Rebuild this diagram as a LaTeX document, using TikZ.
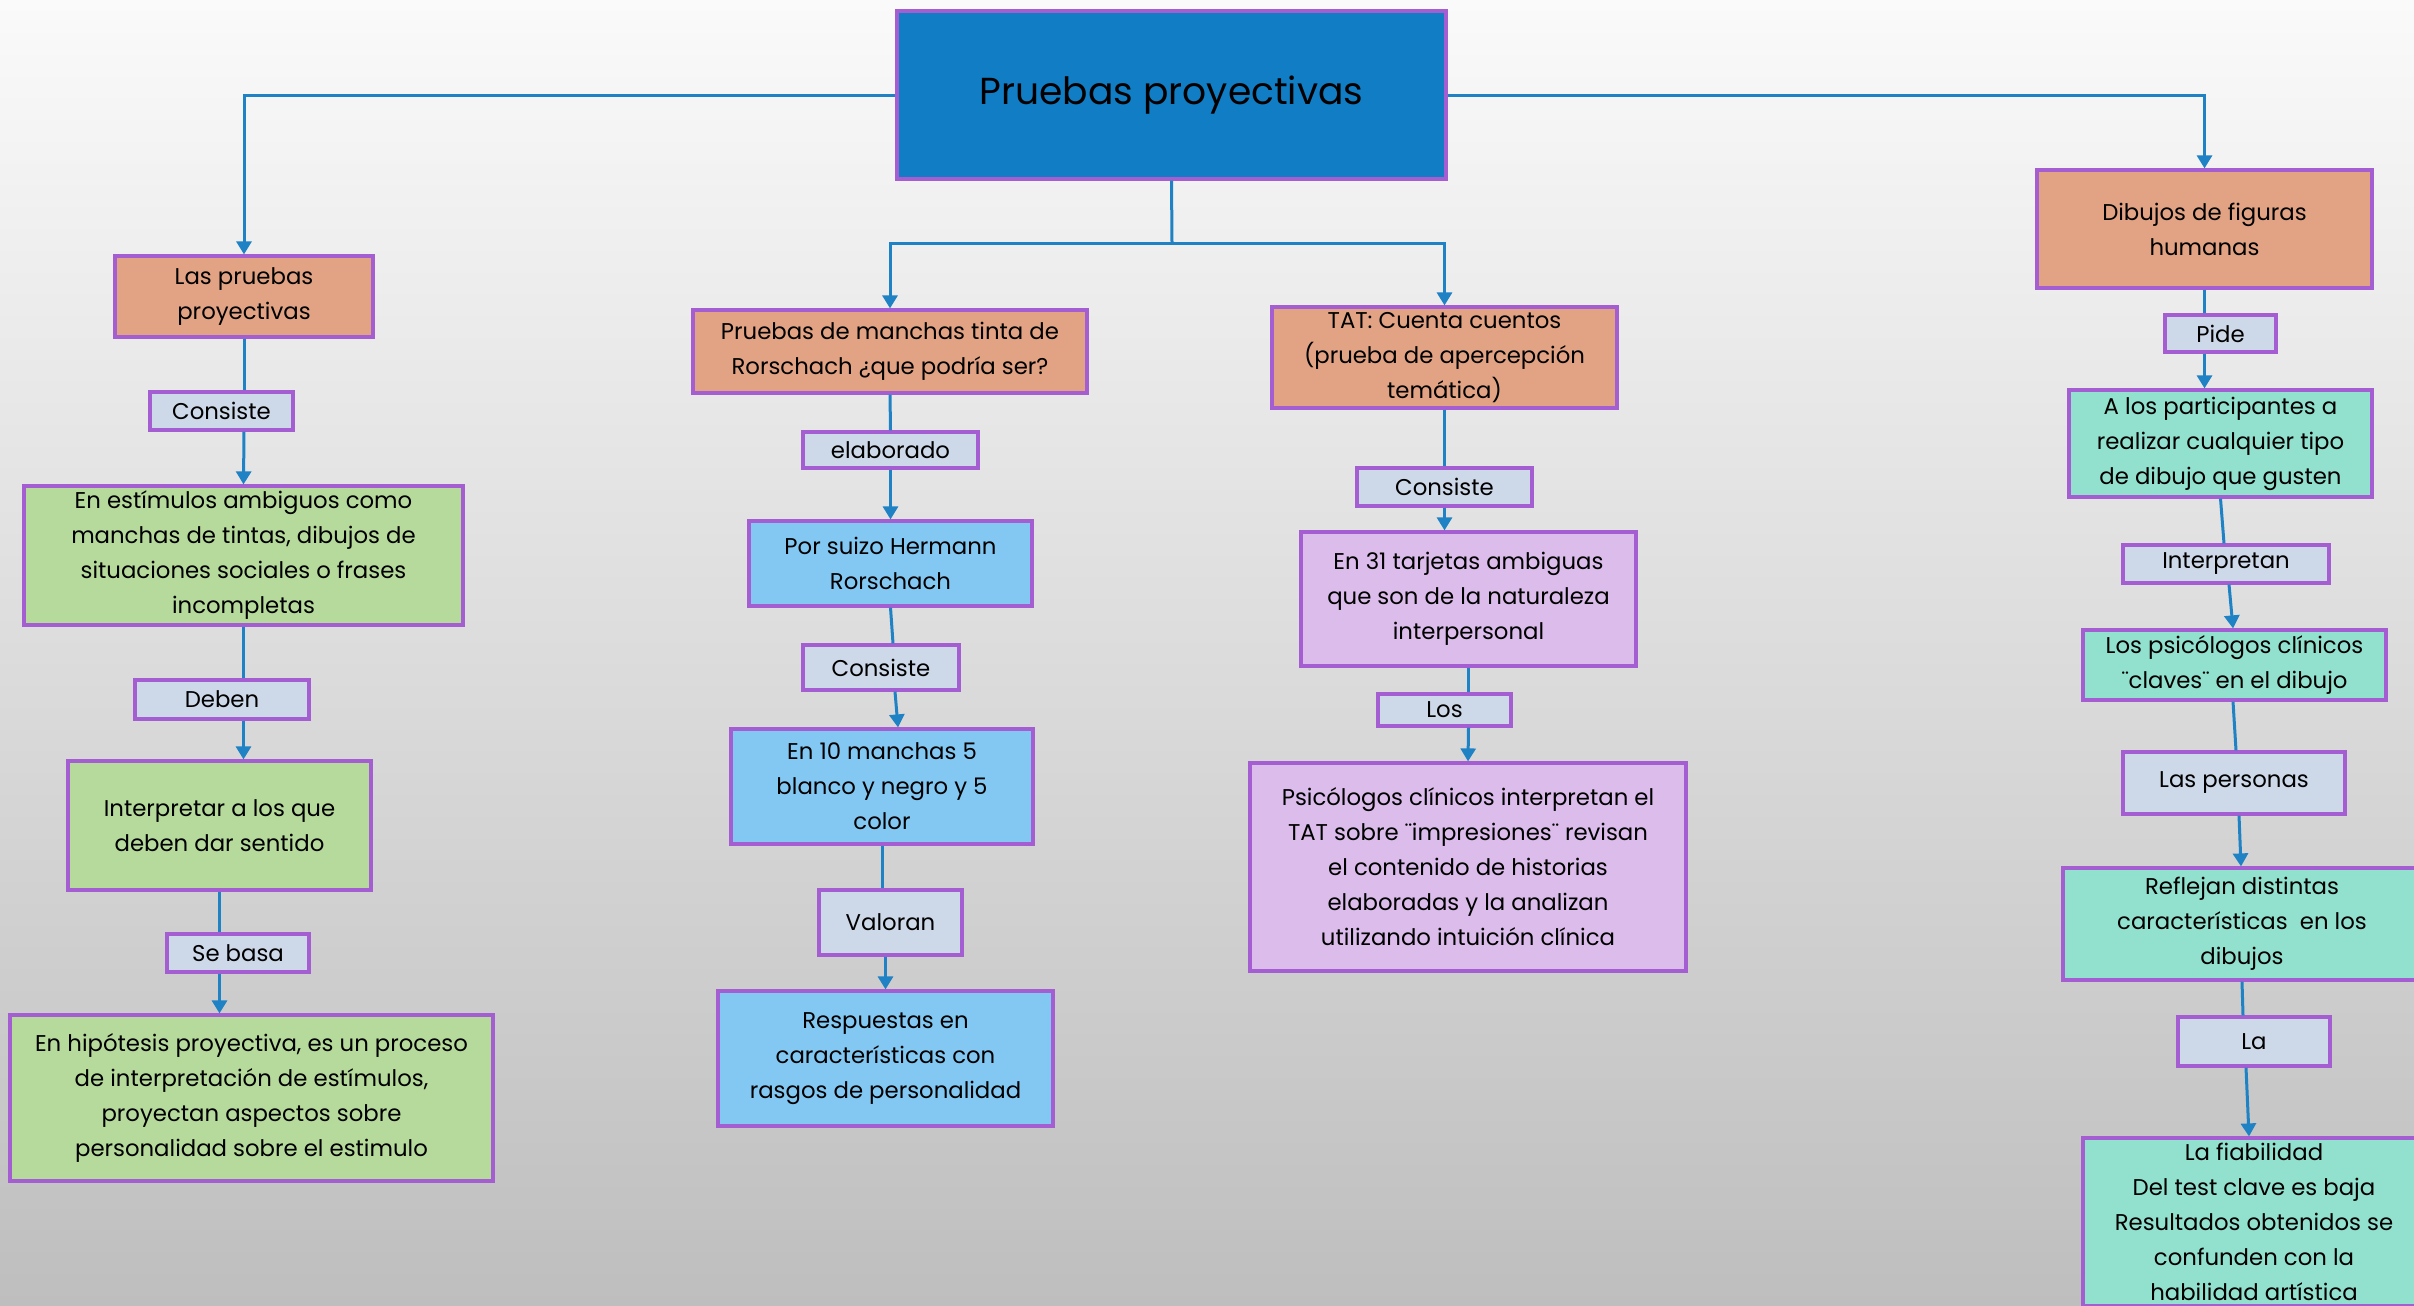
\documentclass[tikz,border=0pt]{standalone}
\usepackage{fontspec}
\setmainfont{Poppins}
\usetikzlibrary{arrows.meta,calc}
\definecolor{conn}{RGB}{31,130,196}
\definecolor{bord}{RGB}{165,94,210}
\definecolor{titlefill}{RGB}{17,125,196}
\definecolor{orangefill}{RGB}{226,163,132}
\definecolor{labelfill}{RGB}{205,216,232}
\definecolor{greenfill}{RGB}{182,218,155}
\definecolor{bluefill}{RGB}{130,200,243}
\definecolor{lavfill}{RGB}{219,188,235}
\definecolor{tealfill}{RGB}{146,224,206}
\definecolor{bgtop}{RGB}{250,250,250}
\definecolor{bgbot}{RGB}{190,190,190}
\begin{document}
\begin{tikzpicture}[x=0.5pt,y=-0.5pt,
  box/.style={draw=bord, line width=1.6pt, align=center, inner sep=0pt, text=black,
    font=\fontsize{11.4}{17.5}\selectfont},
  sz/.style 2 args={minimum width=#1*0.5pt, minimum height=#2*0.5pt},
  head/.style={box, fill=orangefill},
  lab/.style={box, fill=labelfill},
  green/.style={box, fill=greenfill},
  blue/.style={box, fill=bluefill},
  lav/.style={box, fill=lavfill},
  teal/.style={box, fill=tealfill},
  ln/.style={draw=conn, line width=1.5pt},
  arr/.style={ln, -{Triangle[width=7.5pt,length=6.5pt]}}]
\useasboundingbox (0,0) rectangle (2414,1306);
\clip (0,0) rectangle (2414,1306);
\shade[top color=bgtop, bottom color=bgbot] (0,0) rectangle (2414,1306);

% title
\node[box, fill=titlefill, sz={549}{168}, font=\fontsize{18.8}{22}\selectfont] (title) at (1171.5,95) {Pruebas proyectivas};

% column 1
\node[head, sz={258}{81}] (pruebas) at (244,296.5) {Las pruebas\\proyectivas};
\node[lab, sz={143}{38}] (c1) at (221.5,411) {Consiste};
\node[green, sz={439}{139}] (g1) at (243.5,555.5) {En estímulos ambiguos como\\manchas de tintas, dibujos de\\situaciones sociales o frases\\incompletas};
\node[lab, sz={174}{39}] (deben) at (222,699.5) {Deben};
\node[green, sz={303}{129}] (g2) at (219.5,825.5) {Interpretar a los que\\deben dar sentido};
\node[lab, sz={142}{38}] (sebasa) at (238,953) {Se basa};
\node[green, sz={483}{166}] (g3) at (251.5,1098) {En hipótesis proyectiva, es un proceso\\de interpretación de estímulos,\\proyectan aspectos sobre\\personalidad sobre el estimulo};

% column 2
\node[head, sz={394}{83}] (rors) at (890,351.5) {Pruebas de manchas tinta de\\Rorschach ¿que podría ser?};
\node[lab, sz={175}{36}] (elab) at (890.5,450) {elaborado};
\node[blue, sz={283}{85}] (porsuizo) at (890.5,563.5) {Por suizo Hermann\\Rorschach};
\node[lab, sz={156}{45}] (c2) at (881,667.5) {Consiste};
\node[blue, sz={302}{115}] (en10) at (882,786.5) {En 10 manchas 5\\blanco y negro y 5\\color};
\node[lab, sz={143}{65}] (valoran) at (890.5,922.5) {Valoran};
\node[blue, sz={335}{135}] (resp) at (885.5,1058.5) {Respuestas en\\características con\\rasgos de personalidad};

% column 3
\node[head, sz={345}{101}] (tat) at (1444.5,357.5) {TAT: Cuenta cuentos\\(prueba de apercepción\\temática)};
\node[lab, sz={175}{38}] (c3) at (1444.5,487) {Consiste};
\node[lav, sz={335}{134}] (en31) at (1468.5,599) {En 31 tarjetas ambiguas\\que son de la naturaleza\\interpersonal};
\node[lab, sz={133}{32}] (los) at (1444.5,710) {Los};
\node[lav, sz={436}{208}] (psic) at (1468,867) {Psicólogos clínicos interpretan el\\TAT sobre ¨impresiones¨ revisan\\el contenido de historias\\elaboradas y la analizan\\utilizando intuición clínica};

% column 4
\node[head, sz={335}{118}] (dib) at (2204.5,229) {Dibujos de figuras\\humanas};
\node[lab, sz={111}{37}] (pide) at (2220.5,333.5) {Pide};
\node[teal, sz={303}{107}] (alos) at (2220.5,443.5) {A los participantes a\\realizar cualquier tipo\\de dibujo que gusten};
\node[lab, sz={206}{38}] (interp) at (2226,564) {Interpretan};
\node[teal, sz={303}{70}] (lpsic) at (2234.5,665) {Los psicólogos clínicos\\¨claves¨ en el dibujo};
\node[lab, sz={222}{62}] (lpers) at (2234,783) {Las personas};
\node[teal, sz={358}{112}] (refl) at (2242,924) {Reflejan distintas\\características~ en los\\dibujos};
\node[lab, sz={152}{49}] (la) at (2254,1041.5) {La};
\node[teal, sz={342}{168}] (fiab) at (2254,1222) {La fiabilidad\\Del test clave es baja\\Resultados obtenidos se\\confunden con la\\habilidad artística};

% connectors from title
\coordinate (br) at (1172,243);
\draw[arr] (title.west) -| (pruebas.north);
\draw[arr] (title.east) -| (dib.north);
\draw[ln] (title.south) -- (br);
\draw[arr] (br) -| (rors.north);
\draw[arr] (br) -| (tat.north);

% column 1
\draw[ln] (pruebas.south) -- (pruebas.south |- c1.north);
\draw[arr] (pruebas.south |- c1.south) -- (g1.north);
\draw[ln] (g1.south) -- (g1.south |- deben.north);
\draw[arr] (g1.south |- deben.south) -- (g1.south |- g2.north);
\draw[ln] (g2.south) -- (g2.south |- sebasa.north);
\draw[arr] (g2.south |- sebasa.south) -- (g2.south |- g3.north);

% column 2
\draw[ln] (rors.south) -- (elab.north);
\draw[arr] (elab.south) -- (porsuizo.north);
\draw[ln] (porsuizo.south) -- ([xshift=6pt]c2.north);
\draw[arr] ([xshift=7pt]c2.south) -- ([xshift=8pt]en10.north);
\draw[ln] (en10.south) -- (en10.south |- valoran.north);
\draw[arr] (resp.north |- valoran.south) -- (resp.north);

% column 3
\draw[ln] (tat.south) -- (c3.north);
\draw[arr] (c3.south) -- (c3.south |- en31.north);
\draw[ln] (en31.south) -- (en31.south |- los.north);
\draw[arr] (en31.south |- los.south) -- (psic.north);

% column 4
\draw[ln] (dib.south) -- (dib.south |- pide.north);
\draw[arr] (dib.south |- pide.south) -- (dib.south |- alos.north);
\draw[ln] (alos.south) -- ([xshift=-1pt]interp.north);
\draw[arr] ([xshift=1.5pt]interp.south) -- ([xshift=-0.75pt]lpsic.north);
\draw[ln] ([xshift=-0.75pt]lpsic.south) -- ([xshift=1pt]lpers.north);
\draw[arr] ([xshift=2.5pt]lpers.south) -- ([xshift=-0.5pt]refl.north);
\draw[ln] (refl.south) -- ([xshift=-5.5pt]la.north);
\draw[arr] ([xshift=-4pt]la.south) -- ([xshift=-2.5pt]fiab.north);
\end{tikzpicture}
\end{document}
